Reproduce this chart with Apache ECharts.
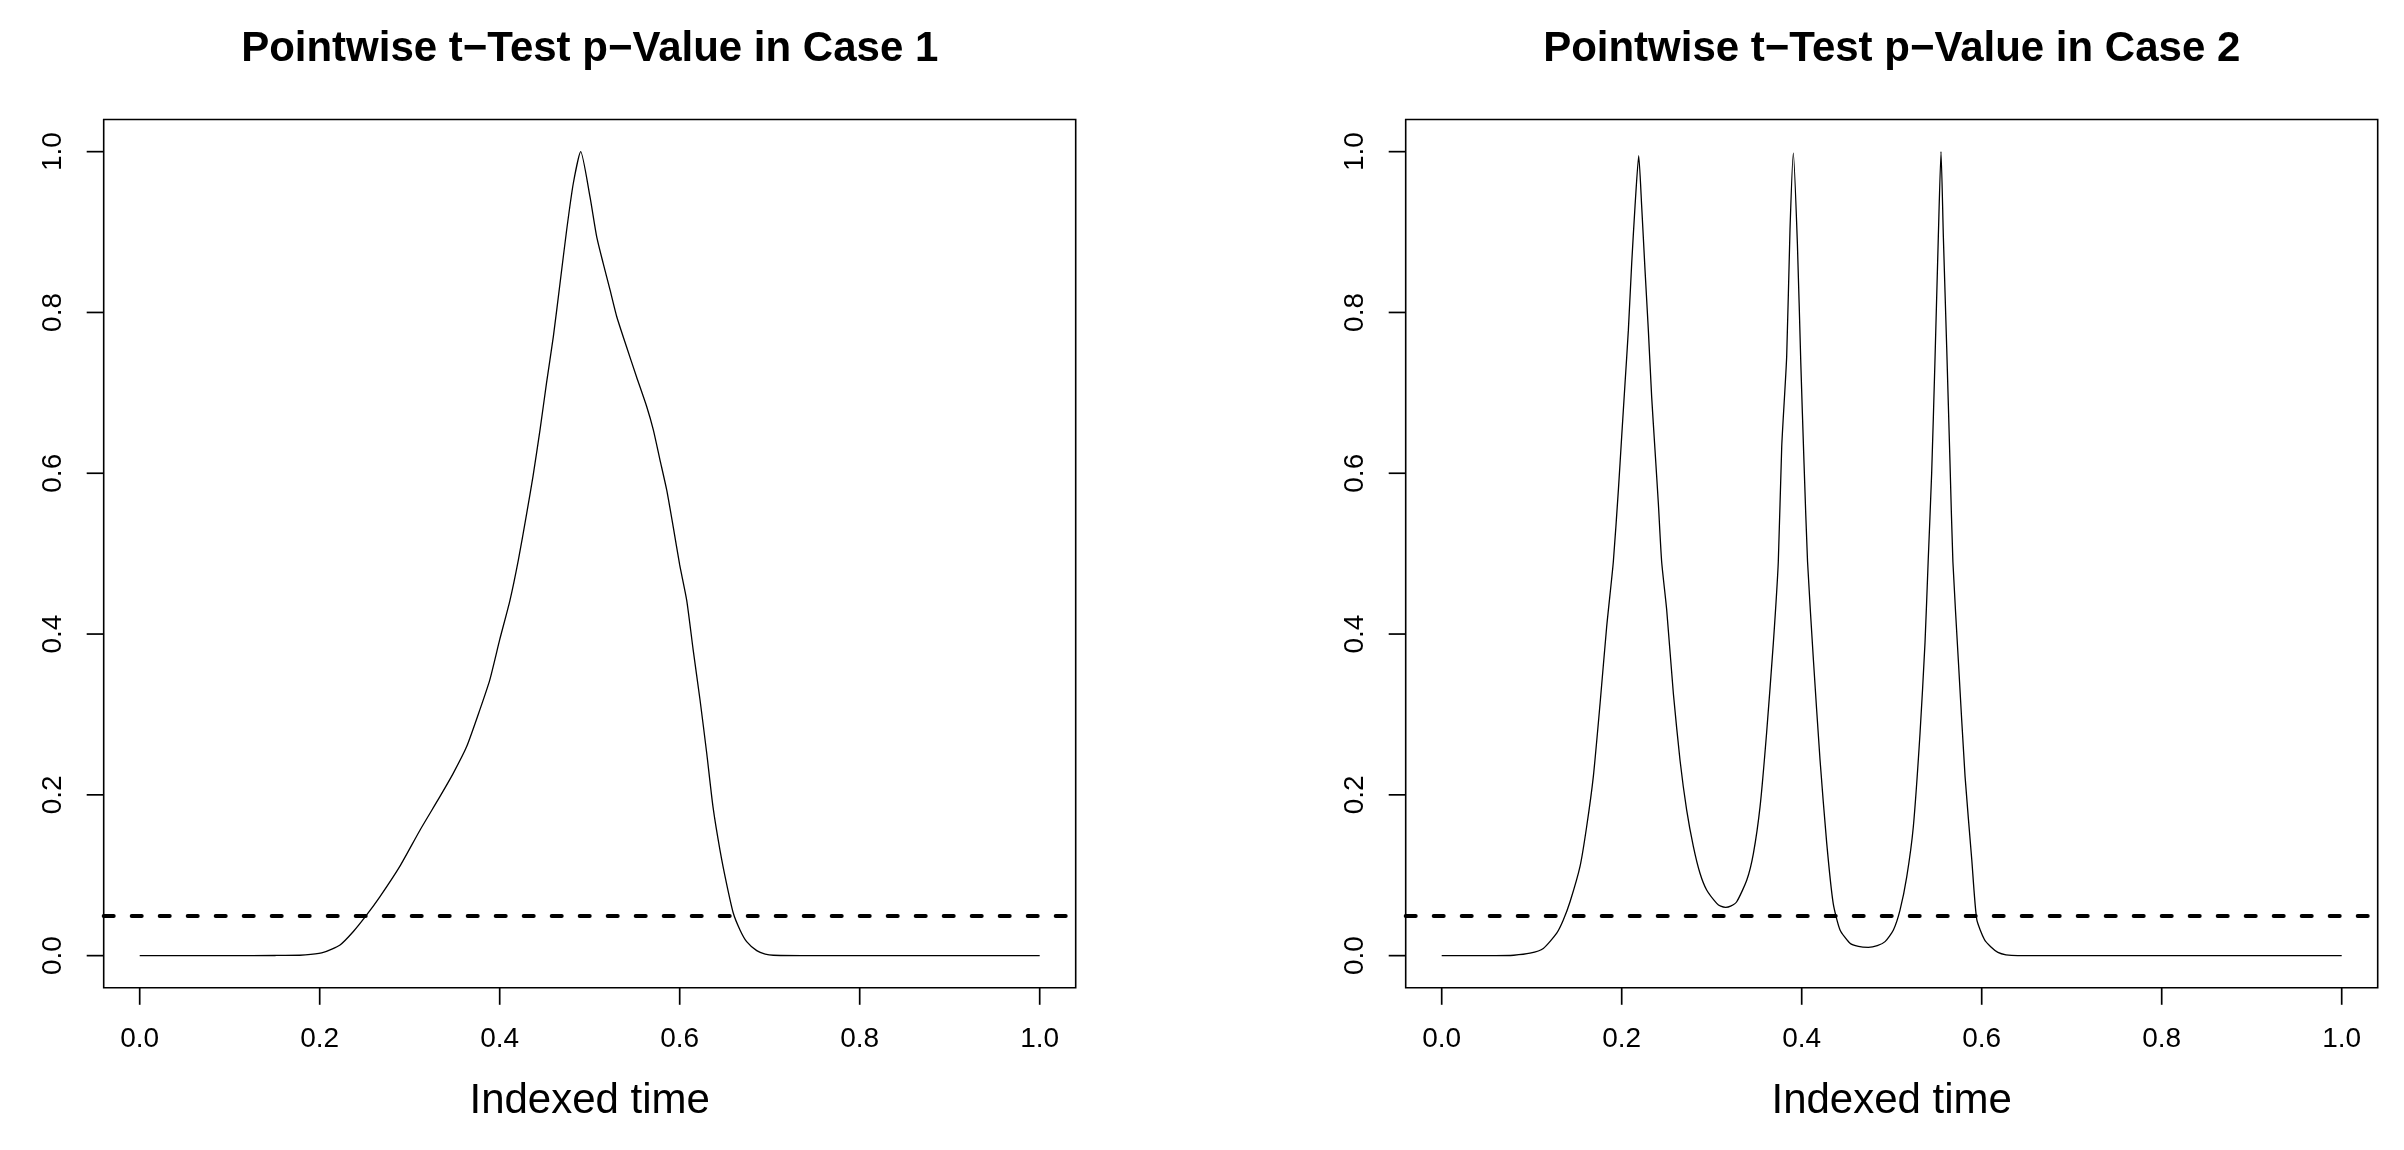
<!DOCTYPE html>
<html>
<head>
<meta charset="utf-8">
<script src="https://cdn.jsdelivr.net/npm/echarts@6/dist/echarts.min.js"></script>
<style>
html,body{margin:0;padding:0;background:#fff;}
#chart{width:2404px;height:1150px;}
</style>
</head>
<body>
<div id="chart"></div>
<script>
const titles = ['Pointwise t\u2212Test p\u2212Value in Case 1', 'Pointwise t\u2212Test p\u2212Value in Case 2'];
const xAxisName = 'Indexed time';
const xTicks = [0, 0.2, 0.4, 0.6, 0.8, 1.0];
const yTicks = [0, 0.2, 0.4, 0.6, 0.8, 1.0];
const axisMin = -0.04, axisMax = 1.04;
const threshold = 0.05;

const case1Points = [
  [0,0],[0.10,0],[0.15,0.0002],[0.178,0.0005],[0.19,0.0015],[0.204,0.004],[0.2226,0.0133],
  [0.2374,0.030],[0.2522,0.0506],[0.267,0.0734],[0.289,0.111],[0.3114,0.156],[0.3337,0.198],
  [0.3485,0.227],[0.3633,0.26],[0.378,0.306],[0.389,0.343],[0.4,0.393],[0.4114,0.442],
  [0.4207,0.492],[0.430,0.55],[0.437,0.596],[0.4448,0.654],[0.452,0.712],[0.4596,0.77],
  [0.467,0.836],[0.4744,0.9026],[0.4818,0.9607],[0.49,1.0],[0.5003,0.944],[0.5078,0.894],
  [0.515,0.861],[0.5226,0.828],[0.53,0.795],[0.541,0.757],[0.552,0.72],[0.5633,0.683],
  [0.5707,0.654],[0.578,0.617],[0.5856,0.579],[0.593,0.532],[0.6,0.486],[0.6078,0.442],
  [0.615,0.38],[0.6226,0.318],[0.63,0.252],[0.637,0.185],[0.6448,0.131],[0.652,0.09],
  [0.6596,0.0527],[0.667,0.032],[0.6744,0.0174],[0.6856,0.0062],[0.695,0.002],[0.704,0.0005],
  [0.75,0],[1,0]
];

const case2Points = [
  [0,0],[0.06,0],[0.08,0.0005],[0.0981,0.003],[0.1129,0.009],[0.1278,0.028],[0.135,0.044],
  [0.1426,0.067],[0.1537,0.111],[0.161,0.16],[0.1685,0.223],[0.176,0.314],[0.1833,0.409],
  [0.1907,0.49],[0.1963,0.579],[0.2,0.646],[0.2037,0.712],[0.2074,0.778],[0.2111,0.861],
  [0.2148,0.932],[0.2189,0.995],[0.2222,0.932],[0.2259,0.853],[0.2296,0.778],[0.2333,0.695],
  [0.237,0.629],[0.2407,0.563],[0.2444,0.49],[0.25,0.43],[0.2574,0.326],[0.2648,0.243],
  [0.2722,0.181],[0.2796,0.136],[0.287,0.1025],[0.2944,0.0817],[0.3056,0.065],[0.31,0.0615],
  [0.3156,0.060],[0.321,0.0615],[0.3278,0.067],[0.339,0.094],[0.3463,0.127],[0.3537,0.185],
  [0.361,0.277],[0.3685,0.389],[0.374,0.49],[0.3778,0.633],[0.3833,0.745],[0.387,0.903],
  [0.3907,0.998],[0.3952,0.886],[0.399,0.737],[0.4026,0.612],[0.4065,0.49],[0.413,0.368],
  [0.4204,0.243],[0.4278,0.14],[0.435,0.065],[0.4426,0.032],[0.4537,0.0154],[0.463,0.0115],
  [0.474,0.0104],[0.484,0.0125],[0.4926,0.0174],[0.5019,0.032],[0.5093,0.057],[0.5167,0.098],
  [0.524,0.16],[0.5315,0.277],[0.537,0.389],[0.5405,0.49],[0.5444,0.6],[0.548,0.737],
  [0.5518,0.894],[0.5548,1.0],[0.5574,0.894],[0.5611,0.757],[0.5648,0.612],[0.568,0.49],
  [0.574,0.368],[0.5815,0.223],[0.589,0.119],[0.5945,0.045],[0.603,0.02],[0.61,0.011],
  [0.618,0.004],[0.627,0.001],[0.64,0],[1,0]
];

const FONT = 'Liberation Sans, Arial, Helvetica, sans-serif';
const gridLefts = [103.7, 1405.7];
const gridW = 972, gridTop = 119.5, gridH = 868.3;
const TICK_LEN = 17, TICK_W = 1.7;

const chart = echarts.init(document.getElementById('chart'));

const grids = [], xAxes = [], yAxes = [], series = [], titleList = [];
[case1Points, case2Points].forEach((pts, i) => {
  grids.push({
    left: gridLefts[i], top: gridTop, width: gridW, height: gridH,
    show: true, borderColor: '#000', borderWidth: 1.6
  });
  titleList.push({
    text: titles[i], left: gridLefts[i] + gridW / 2, top: 28, textAlign: 'center', padding: 0,
    textStyle: {fontFamily: FONT, fontSize: 42, fontWeight: 'bold', color: '#000'}
  });
  xAxes.push({
    type: 'value', gridIndex: i, min: axisMin, max: axisMax,
    name: xAxisName, nameLocation: 'middle', nameGap: 93,
    nameTextStyle: {fontFamily: FONT, fontSize: 42, color: '#000'},
    axisLine: {show: false, onZero: false},
    axisTick: {show: false},
    axisLabel: {show: true, customValues: xTicks, margin: 37,
      formatter: v => v.toFixed(1),
      fontFamily: FONT, fontSize: 28, color: '#000'},
    splitLine: {show: false}
  });
  yAxes.push({
    type: 'value', gridIndex: i, min: axisMin, max: axisMax,
    axisLine: {show: false, onZero: false},
    axisTick: {show: false},
    axisLabel: {show: true, customValues: yTicks, margin: 36, rotate: 90,
      formatter: v => v.toFixed(1),
      fontFamily: FONT, fontSize: 28, color: '#000'},
    splitLine: {show: false}
  });
  series.push({
    type: 'line', xAxisIndex: i, yAxisIndex: i, data: pts,
    showSymbol: false, symbol: 'none', smooth: 0.2,
    lineStyle: {color: '#000', width: 1.3},
    markLine: {
      silent: true, symbol: ['none', 'none'],
      label: {show: false},
      lineStyle: {color: '#000', width: 4, type: [10, 18], cap: 'round'},
      data: [{yAxis: threshold}]
    }
  });
});

chart.setOption({
  animation: false,
  title: titleList,
  grid: grids,
  xAxis: xAxes,
  yAxis: yAxes,
  series: series
});

// Tick marks placed through the library's own scales (convertToPixel)
const tickGraphics = [];
[0, 1].forEach(i => {
  xTicks.forEach(v => {
    const p = chart.convertToPixel({gridIndex: i}, [v, axisMin]);
    tickGraphics.push({
      type: 'line', z: 100, silent: true,
      shape: {x1: p[0], y1: p[1], x2: p[0], y2: p[1] + TICK_LEN},
      style: {stroke: '#000', lineWidth: TICK_W}
    });
  });
  yTicks.forEach(v => {
    const p = chart.convertToPixel({gridIndex: i}, [axisMin, v]);
    tickGraphics.push({
      type: 'line', z: 100, silent: true,
      shape: {x1: p[0], y1: p[1], x2: p[0] - TICK_LEN, y2: p[1]},
      style: {stroke: '#000', lineWidth: TICK_W}
    });
  });
});
chart.setOption({graphic: {elements: tickGraphics}});
</script>
</body>
</html>
